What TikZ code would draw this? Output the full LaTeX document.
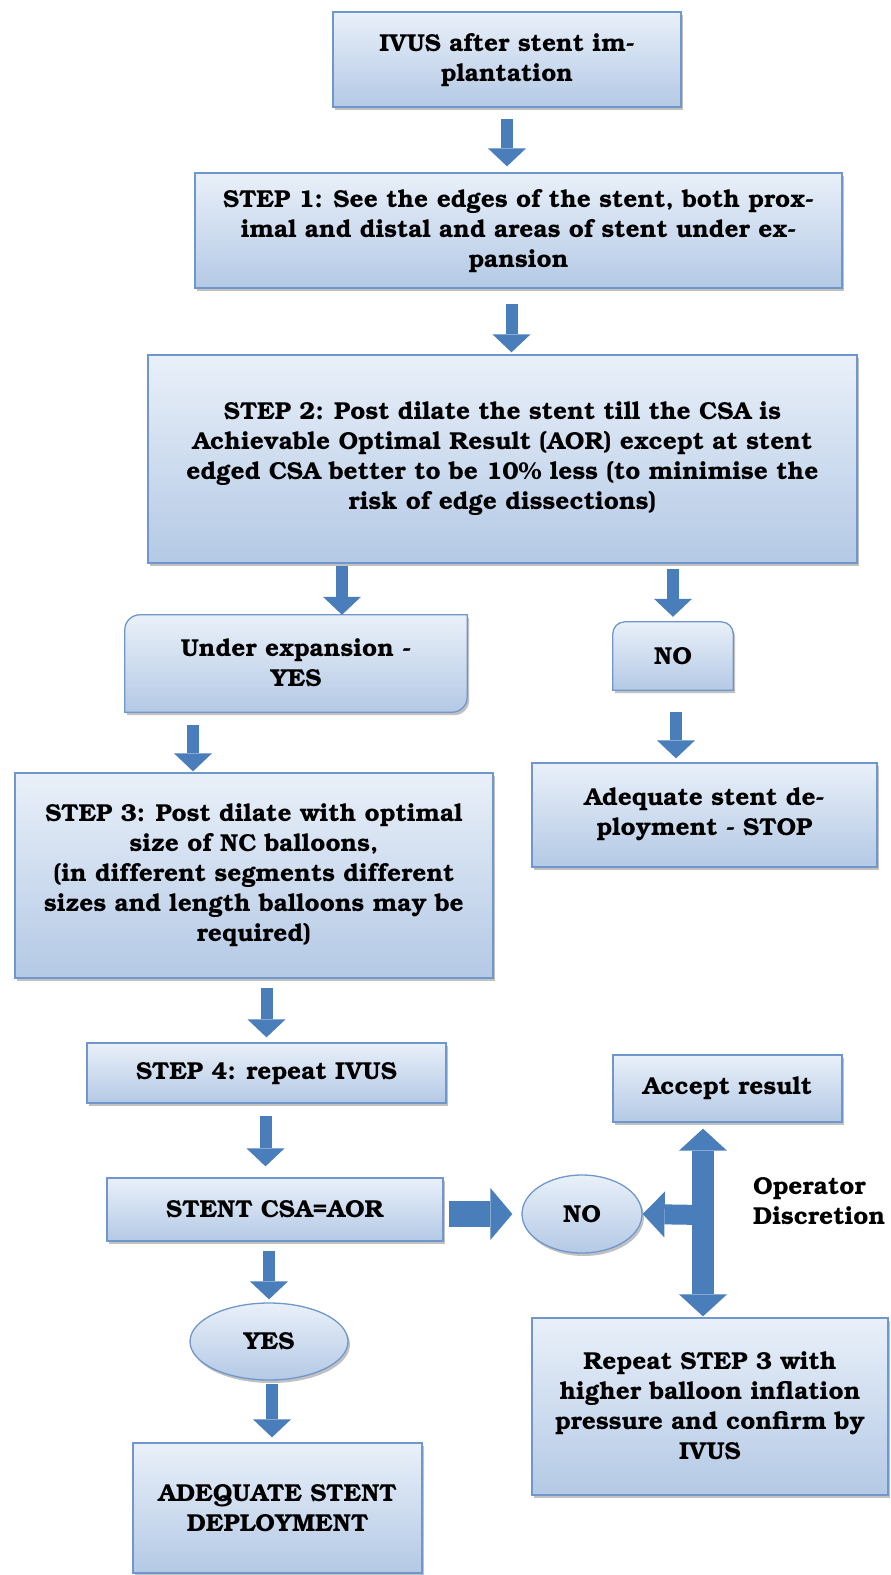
\documentclass[tikz,border=0pt]{standalone}
\usepackage[T1]{fontenc}
\usepackage{bookman}
\usetikzlibrary{arrows.meta,shapes.geometric,shadows,backgrounds}

\definecolor{boxtop}{HTML}{E9F0F9}
\definecolor{boxbot}{HTML}{B4C9E5}
\definecolor{boxedge}{HTML}{6F97CB}
\definecolor{arrowblue}{HTML}{4A7EBB}

\newcommand{\boxfont}{\fontsize{24.5}{30}\selectfont\bfseries}

\tikzset{
  stepbox/.style={draw=boxedge, line width=1.3pt, top color=boxtop, bottom color=boxbot,
    drop shadow={shadow xshift=2pt, shadow yshift=-3pt, opacity=.35, fill=black!70},
    align=center, font=\boxfont, inner sep=4pt},
  plainbox/.style={align=center, font=\boxfont, inner sep=2pt},
  decision/.style={stepbox, ellipse},
  blockarrow/.style={draw=arrowblue, line width=12pt,
    -{Triangle[width=38pt, length=18pt, line width=0pt]}},
  hbigarrow/.style={draw=arrowblue, line width=26pt,
    -{Triangle[width=52pt, length=22pt, line width=0pt]}},
  sidearrow/.style={draw=arrowblue, line width=20pt,
    -{Triangle[width=46pt, length=22pt, line width=0pt]}},
  vbigarrow/.style={draw=arrowblue, line width=22pt,
    {Triangle[width=48pt, length=22pt, line width=0pt]}-{Triangle[width=48pt, length=22pt, line width=0pt]}}
}

\begin{document}
\begin{tikzpicture}[x=1pt, y=-1pt]

\useasboundingbox (0,0) rectangle (891,1575);

% main column
\node[stepbox, minimum width=348pt, minimum height=95pt] (ivus) at (507,59.5) {IVUS after stent im-\\plantation};
\node[stepbox, minimum width=647pt, minimum height=115pt] (step_one) at (518.5,230.5) {STEP 1: See the edges of the stent, both prox-\\imal and distal and areas of stent under ex-\\pansion};
\node[stepbox, minimum width=709pt, minimum height=208pt] (step_two) at (502.5,459) {STEP 2: Post dilate the stent till the CSA is\\Achievable Optimal Result (AOR) except at stent\\edged CSA better to be 10\% less (to minimise the\\risk of edge dissections)};

% the two answers
\node[plainbox, minimum width=342pt, minimum height=97pt] (under_exp) at (296,663.5) {Under expansion -\\YES};
\node[plainbox, minimum width=120pt, minimum height=68pt] (no_box) at (673,656) {NO};
\node[stepbox, minimum width=345pt, minimum height=104pt] (stop) at (704.5,815) {Adequate stent de-\\ployment - STOP};

\begin{scope}[on background layer]
\path[stepbox] (under_exp.south west) -- ([yshift=-15pt]under_exp.north west)
  arc[start angle=180, end angle=90, radius=15pt] -- (under_exp.north east)
  -- ([yshift=15pt]under_exp.south east)
  arc[start angle=0, end angle=-90, radius=15pt] -- cycle;
\path[stepbox] (no_box.south west) -- ([yshift=-12pt]no_box.north west)
  arc[start angle=180, end angle=90, radius=12pt] -- ([xshift=-12pt]no_box.north east)
  arc[start angle=90, end angle=0, radius=12pt] -- (no_box.south east) -- cycle;
\end{scope}

% post dilatation and repeat
\node[stepbox, minimum width=478pt, minimum height=205pt] (step_three) at (254,875.5) {STEP 3: Post dilate with optimal\\size of NC balloons,\\(in different segments different\\sizes and length balloons may be\\required)};
\node[stepbox, minimum width=359pt, minimum height=60pt] (step_four) at (266.5,1073) {STEP 4: repeat IVUS};
\node[stepbox, minimum width=336pt, minimum height=63pt] (csa) at (275,1209.5) {STENT CSA=AOR};
\node[decision, minimum width=158pt, minimum height=77pt, inner sep=0pt] (yes) at (269,1341.5) {YES};
\node[stepbox, minimum width=289pt, minimum height=130pt] (adequate) at (277.5,1508) {ADEQUATE STENT\\DEPLOYMENT};

% operator side
\node[decision, minimum width=120pt, minimum height=78pt, inner sep=0pt] (no_csa) at (582,1214) {NO};
\node[stepbox, minimum width=229pt, minimum height=67pt] (accept) at (727.5,1088.5) {Accept result};
\node[stepbox, minimum width=356pt, minimum height=177pt] (repeat) at (710,1406.5) {Repeat STEP 3 with\\higher balloon inflation\\pressure and confirm by\\IVUS};
\node[plainbox, align=left, anchor=west] (op_disc) at (751,1201) {Operator\\Discretion};
\coordinate (junction) at (703,1215);

% arrows
\draw[blockarrow, shorten <=11pt, shorten >=6pt] (ivus.south) -- (ivus.south |- step_one.north);
\draw[blockarrow, shorten <=15pt, shorten >=2pt] ([xshift=-7pt]step_one.south) -- ([xshift=-7pt]step_one.south |- step_two.north);
\draw[blockarrow, shorten <=2pt] ([xshift=46pt]under_exp.north |- step_two.south) -- ([xshift=46pt]under_exp.north);
\draw[blockarrow, shorten <=5pt, shorten >=5pt] (no_box.north |- step_two.south) -- (no_box.north);
\draw[blockarrow, shorten <=22pt, shorten >=4pt] ([xshift=3pt]no_box.south) -- ([xshift=3pt]no_box.south |- stop.north);
\draw[blockarrow, shorten <=13pt, shorten >=1pt] ([xshift=-61pt]step_three.north |- under_exp.south) -- ([xshift=-61pt]step_three.north);
\draw[blockarrow, shorten <=9pt, shorten >=5pt] (step_four.north |- step_three.south) -- (step_four.north);
\draw[blockarrow, shorten <=12pt, shorten >=11pt] ([xshift=-1pt]step_four.south) -- ([xshift=-1pt]step_four.south |- csa.north);
\draw[blockarrow, shorten <=9pt, shorten >=3pt] (yes.north |- csa.south) -- (yes.north);
\draw[blockarrow, shorten <=3pt, shorten >=5pt] ([xshift=3pt]yes.south) -- ([xshift=3pt]yes.south |- adequate.north);

\draw[hbigarrow, shorten <=5pt, shorten >=9pt] (no_csa.west -| csa.east) -- (no_csa.west);
\draw[sidearrow] (junction) -- (no_csa.east);
\draw[vbigarrow, shorten <=6pt, shorten >=1pt] (accept.south -| junction) -- (repeat.north -| junction);

\end{tikzpicture}
\end{document}
